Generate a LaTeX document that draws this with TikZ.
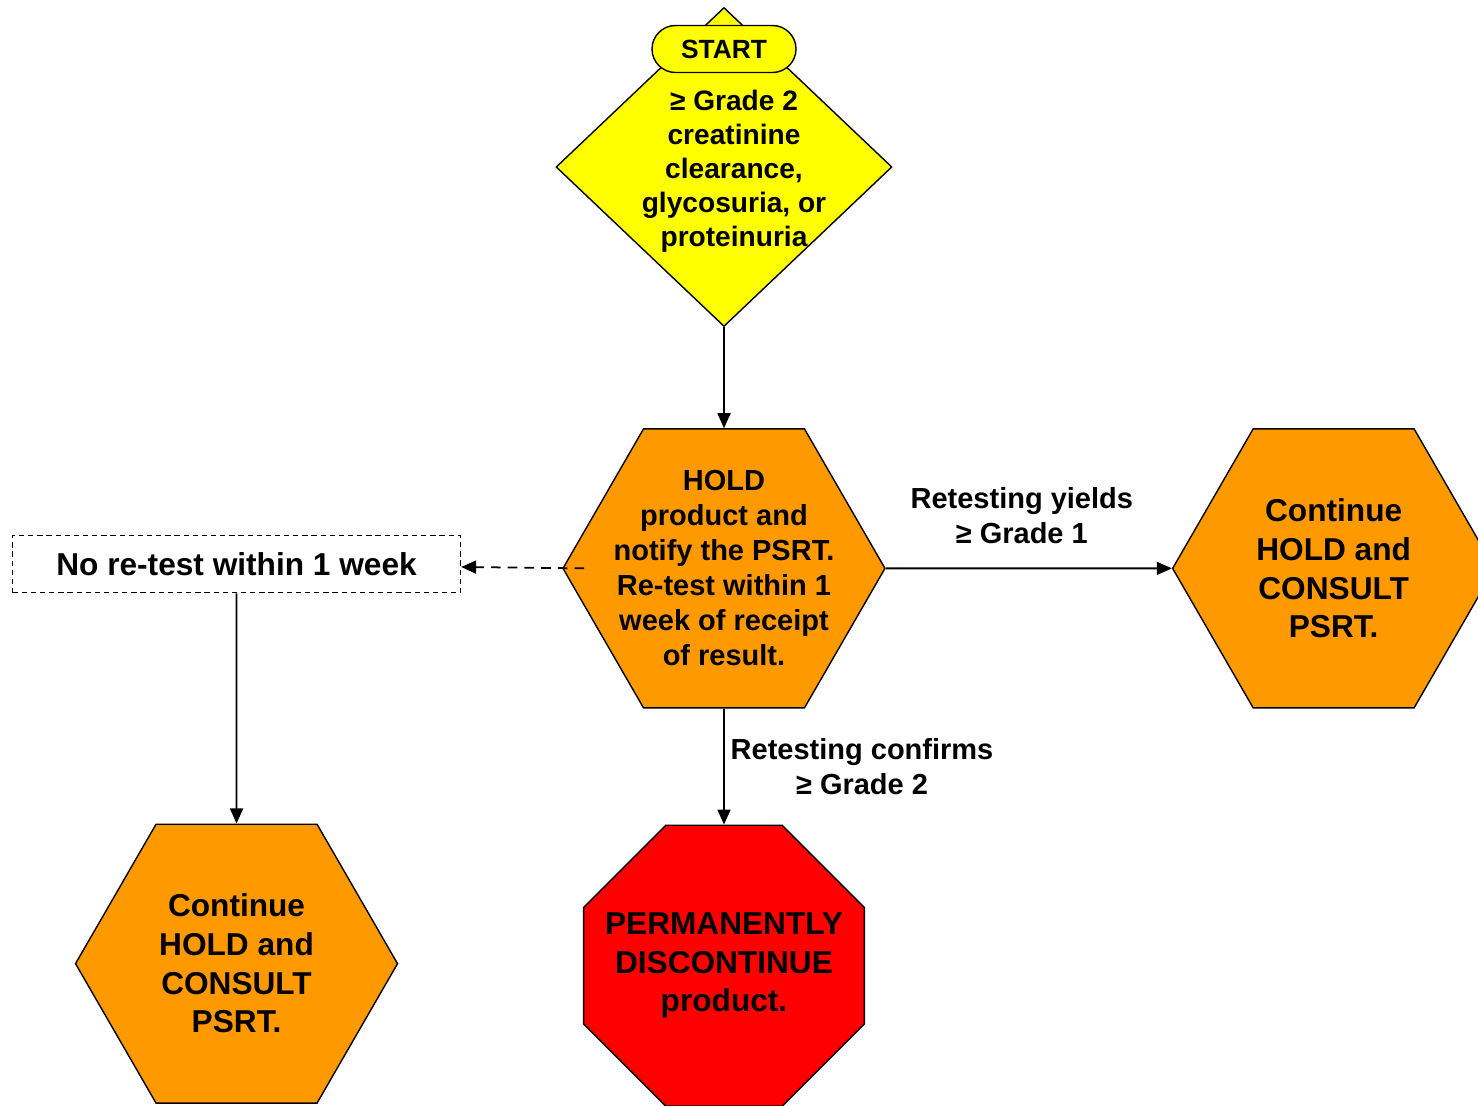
\documentclass[tikz,border=0pt]{standalone}
\usepackage{fontspec}
\setmainfont{Liberation Sans}
\usetikzlibrary{arrows.meta,positioning,shapes.geometric}
\definecolor{startyellow}{HTML}{FFFF00}
\definecolor{holdorange}{HTML}{FF9900}
\definecolor{stopred}{HTML}{FF0000}

\begin{document}
\begin{tikzpicture}[
node distance=2cm,
base/.style={draw, line width=0.8pt, align=center},
dia/.style={base, diamond, fill=startyellow, minimum width=6.72cm, minimum height=6.38cm, inner sep=0pt},
term/.style={base, rounded corners=4.7mm, fill=startyellow, minimum width=2.88cm, minimum height=0.94cm, inner sep=0pt, font=\fontsize{15}{18}\selectfont\bfseries},
hexa/.style={base, regular polygon, regular polygon sides=6, minimum size=6.44cm, fill=holdorange, inner sep=0pt, font=\fontsize{18}{22}\selectfont\bfseries},
octa/.style={base, regular polygon, regular polygon sides=8, minimum size=6.08cm, fill=stopred, inner sep=-14pt, font=\fontsize{18}{22}\selectfont\bfseries},
dbox/.style={draw, dash pattern=on 3pt off 2.2pt, line width=0.7pt, minimum width=8.96cm, minimum height=1.14cm, font=\fontsize{18}{22}\selectfont\bfseries},
lbl/.style={align=center, font=\fontsize{16.5}{19.9}\selectfont\bfseries},
arr/.style={-{Triangle[length=3mm,width=2.6mm]}, line width=1pt},
darr/.style={arr, dash pattern=on 5.5pt off 4pt}
]
\useasboundingbox (0,0) rectangle (29.56,-22.12);

\node[dia, label={[lbl, font=\fontsize{16}{19.4}\selectfont\bfseries, xshift=0.2cm, yshift=-0.08cm]center:≥ Grade 2\\creatinine\\clearance,\\glycosuria, or\\proteinuria}] (crit) at (14.48,-3.34) {};
\node[term, below=0.36cm of crit.north] (start) {START};
\node[hexa, inner sep=-9pt, font=\fontsize{16.5}{19.9}\selectfont\bfseries, below=2.02cm of crit] (hold) {HOLD\\product and\\notify the PSRT.\\Re-test within 1\\week of receipt\\of result.};
\node[hexa, right=5.72cm of hold] (cont1) {Continue\\HOLD and\\CONSULT\\PSRT.};
\node[octa, below=2.32cm of hold] (stop) {PERMANENTLY\\DISCONTINUE\\product.};
\node[dbox, left=2.02cm of hold, yshift=0.08cm] (noretest) {No re-test within 1 week};
\node[hexa, below=4.6cm of noretest] (cont2) {Continue\\HOLD and\\CONSULT\\PSRT.};

\draw[arr] (crit) -- (hold);
\draw[arr] (hold) -- node[lbl, above=10pt, xshift=-0.14cm] {Retesting yields\\≥ Grade 1} (cont1);
\draw[arr] (hold) -- node[lbl, right=0pt] {Retesting confirms\\≥ Grade 2} (stop);
\draw[darr] ([xshift=0.44cm]hold.west) -- (noretest);
\draw[arr] (noretest) -- (cont2);
\end{tikzpicture}
\end{document}
